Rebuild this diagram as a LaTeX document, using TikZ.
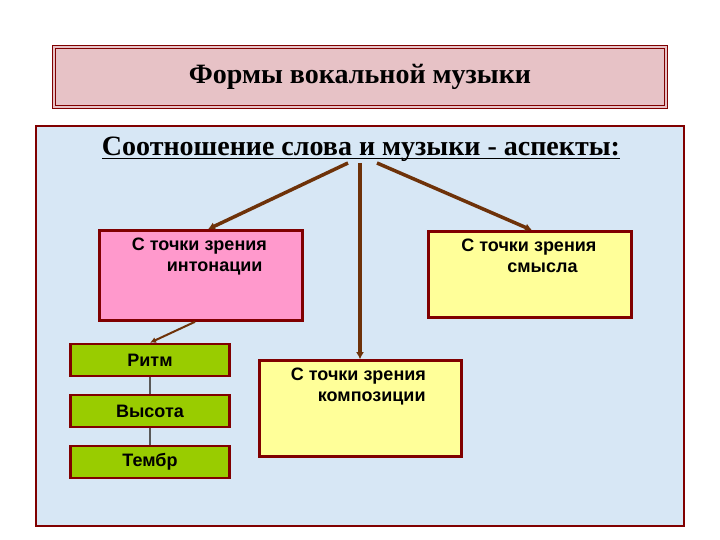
\documentclass[tikz,border=0pt]{standalone}
\usepackage{fontspec}
\setmainfont{Liberation Serif}
\setsansfont{Liberation Sans}
\usetikzlibrary{positioning,arrows.meta}
\definecolor{titlefill}{HTML}{E7C2C6}
\definecolor{panelfill}{HTML}{D7E7F5}
\definecolor{borderred}{HTML}{800000}
\definecolor{arrowbrown}{HTML}{6E3209}
\definecolor{intonpink}{HTML}{FF99CC}
\definecolor{paleyellow}{HTML}{FFFF99}
\definecolor{leafgreen}{HTML}{99CC00}
\newcommand{\underscored}[1]{\setbox0\hbox{#1}\rlap{\rule[-3.5pt]{\wd0}{1.8pt}}\box0}
\tikzstyle{titlebox}=[draw=borderred,double=titlefill,double distance=2pt,line width=1.3pt,fill=titlefill,minimum width=612pt,minimum height=60pt,inner sep=0pt]
\tikzstyle{panel}=[draw=borderred,line width=2pt,fill=panelfill,minimum width=648pt,minimum height=400pt,inner sep=0pt]
\tikzstyle{aspect}=[draw=borderred,line width=2.6pt,inner sep=0pt]
\tikzstyle{feature}=[aspect,fill=leafgreen,minimum width=159pt,minimum height=32pt,font=\sffamily\bfseries\fontsize{18}{21}\selectfont]
\tikzstyle{boxtext}=[inner sep=0pt,align=left,font=\sffamily\bfseries\fontsize{18}{21}\selectfont]
\tikzstyle{bigarrow}=[draw=arrowbrown,line width=3.5pt,-{Latex[length=7pt,width=8pt]}]
\tikzstyle{smallarrow}=[draw=arrowbrown,line width=2pt,-{Latex[length=6pt,width=6pt]}]
\tikzstyle{link}=[draw=black!65,line width=1.3pt]

\begin{document}
\begin{tikzpicture}[x=1pt,y=-1pt]
  \useasboundingbox (0,0) rectangle (720,540);
  % Title and main panel
  \node[titlebox,font=\bfseries\fontsize{28}{30}\selectfont] (title) at (360,77) {Формы вокальной музыки};
  \node[panel] (panel) at (360,326) {};
  \node[inner sep=0pt,anchor=base,font=\bfseries\fontsize{28}{30}\selectfont] (heading) at (361,156)
    {\underscored{Соотношение слова и музыки - аспекты:}};

  % The three aspects
  \node[aspect,fill=intonpink,minimum width=203pt,minimum height=90pt] (inton) at (201,275.5) {};
  \node[aspect,fill=paleyellow,minimum width=203pt,minimum height=86pt] (sense) at (530,274.5) {};
  \node[aspect,fill=paleyellow,minimum width=202pt,minimum height=96pt] (compos) at (360.5,408.5) {};

  \node[boxtext,anchor=north west] (inton-text) at ([shift={(33.5pt,-9pt)}]inton.north west)
    {С точки зрения\\\hspace*{35pt}интонации};
  \node[boxtext,anchor=north west] (sense-text) at ([shift={(34pt,-9pt)}]sense.north west)
    {С точки зрения\\\hspace*{46pt}смысла};
  \node[boxtext,anchor=north west] (compos-text) at ([shift={(32.5pt,-9pt)}]compos.north west)
    {С точки зрения\\\hspace*{27pt}композиции};

  % Features of intonation
  \node[feature] (rhythm) at (150,360) {Ритм};
  \node[feature] (pitch) at (150,411) {Высота};
  \node[feature] (timbre) at (150,462) {Тембр};

  % Connect the heading with the aspects
  \coordinate (hub-l) at (348,163);
  \coordinate (hub) at (360,163);
  \coordinate (hub-r) at (377,163);
  \path[bigarrow] (hub-l) -- ([xshift=7pt]inton.north);
  \path[bigarrow] (hub) -- (hub |- compos.north);
  \path[bigarrow] (hub-r) -- ([xshift=2pt]sense.north);

  \path[smallarrow] ([xshift=-6pt]inton.south) -- (rhythm.north);
  \foreach \source/\dest in {rhythm/pitch, pitch/timbre}
    \path[link] (\source.south) -- (\dest.north);
\end{tikzpicture}
\end{document}
